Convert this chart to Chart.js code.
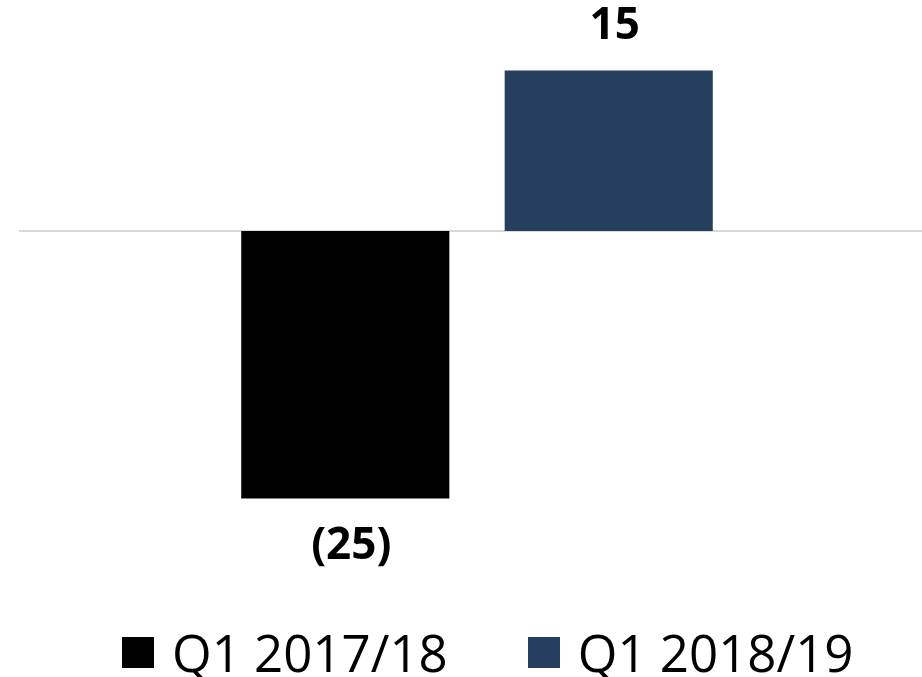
<!DOCTYPE html>
<html>
<head>
<meta charset="utf-8">
<script src="https://cdn.jsdelivr.net/npm/chart.js@4.4.1/dist/chart.umd.min.js"></script>
<style>
  html, body { margin: 0; padding: 0; background: #ffffff; }
  #wrap { position: relative; width: 922px; height: 677px; overflow: hidden; }
  #legend { position: absolute; left: 122px; top: 625px; display: flex; align-items: center;
            width: max-content; white-space: nowrap;
            font-family: "Open Sans", sans-serif; font-size: 51px; color: #000; line-height: 54px; }
  .item { display: flex; align-items: center; margin-right: 80px; flex-shrink: 0; white-space: nowrap; }
  .box { width: 32px; height: 31px; margin-right: 18px; flex-shrink: 0; }
</style>
</head>
<body>
<div id="wrap">
  <canvas id="c" width="922" height="677"></canvas>
  <div id="legend"></div>
</div>
<script>
const categories = [""];
const seriesNames = ["Q1 2017/18", "Q1 2018/19"];
const seriesValues = [[-25], [15]];
const seriesColors = ["#000000", "#273F5F"];
const valueLabels = ["(25)", "15"];

const labelPlugin = {
  id: 'valueLabels',
  beforeDatasetsDraw(chart) {
    const {ctx, chartArea, scales} = chart;
    const y0 = scales.y.getPixelForValue(0);
    ctx.save();
    ctx.strokeStyle = '#D9D9D9';
    ctx.lineWidth = 2;
    ctx.beginPath();
    ctx.moveTo(chartArea.left - 13, y0);
    ctx.lineTo(chartArea.right, y0);
    ctx.stroke();
    ctx.restore();
  },
  afterDatasetsDraw(chart) {
    const {ctx} = chart;
    ctx.save();
    ctx.font = 'bold 44px "Open Sans", sans-serif';
    ctx.fillStyle = '#000';
    ctx.textAlign = 'center';
    ctx.textBaseline = 'middle';
    chart.data.datasets.forEach((ds, i) => {
      const meta = chart.getDatasetMeta(i);
      meta.data.forEach((bar, j) => {
        const v = ds.data[j];
        const y = v >= 0 ? bar.y - 44 : bar.y + 48;
        ctx.fillText(valueLabels[i], bar.x + 6, y);
      });
    });
    ctx.restore();
  }
};

new Chart(document.getElementById('c'), {
  type: 'bar',
  data: {
    labels: categories,
    datasets: seriesNames.map((n, i) => ({
      label: n,
      data: seriesValues[i],
      backgroundColor: seriesColors[i],
      borderWidth: 0,
      categoryPercentage: 0.592,
      barPercentage: 0.79
    }))
  },
  options: {
    responsive: false,
    animation: false,
    layout: { padding: { left: 32, right: 0, top: 17, bottom: 125 } },
    plugins: { legend: { display: false }, tooltip: { enabled: false } },
    scales: {
      x: { display: false },
      y: { display: false, min: -30, max: 20 }
    }
  },
  plugins: [labelPlugin]
});

const lg = document.getElementById('legend');
seriesNames.forEach((n, i) => {
  const it = document.createElement('div');
  it.className = 'item';
  const b = document.createElement('div');
  b.className = 'box';
  b.style.background = seriesColors[i];
  const t = document.createElement('span');
  t.textContent = n;
  it.appendChild(b); it.appendChild(t);
  lg.appendChild(it);
});
</script>
</body>
</html>
